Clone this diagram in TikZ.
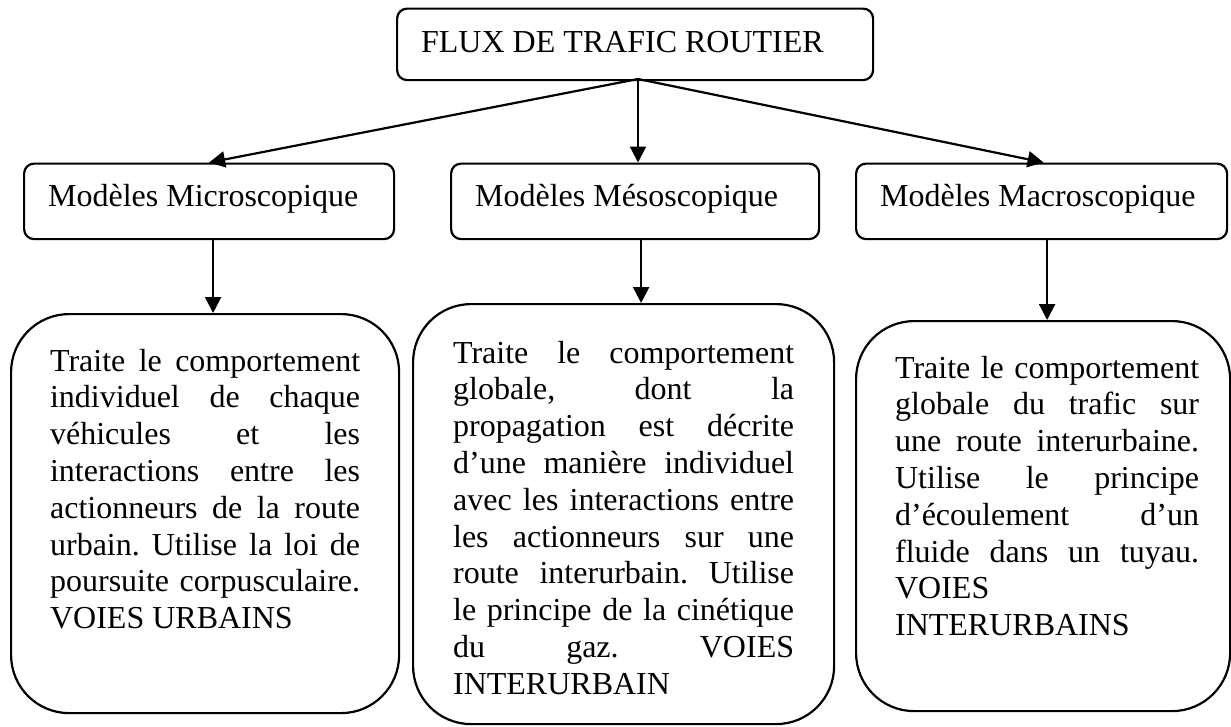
\documentclass[tikz,border=0pt]{standalone}
\usepackage{fontspec}
\setmainfont{Liberation Serif}
\usetikzlibrary{arrows.meta}

% one justified line of a text block
\newcommand\jl[1]{\makebox[\linewidth][s]{#1}\par}

\tikzset{
  txt/.style={font=\fontsize{32}{36.8}\selectfont\frenchspacing},
  box/.style={txt, draw, line width=2.2pt, inner sep=0pt, anchor=north west},
  headbox/.style={box, rounded corners=10pt},
  bigbox/.style={box, rounded corners=58pt},
  arr/.style={line width=2.2pt, -{Triangle[length=16pt,width=16pt]}},
}

\begin{document}
\begin{tikzpicture}[x=1pt, y=-1pt]
  \fill[white] (0,0) rectangle (1231,726);
  \useasboundingbox (0,0) rectangle (1231,726);

  % root
  \node[headbox, text height=44.2pt, text depth=27.3pt] (top) at (396,7.5)
    {\makebox[476pt][l]{\hspace*{24pt}FLUX DE TRAFIC ROUTIER}};
  \coordinate (hub) at (638,79);

  % model families
  \node[headbox, text height=42.5pt, text depth=33pt] (m1) at (23,162.5)
    {\makebox[370pt][l]{\hspace*{24pt}Modèles Microscopique}};
  \node[headbox, text height=42.5pt, text depth=33pt] (m2) at (450,162.5)
    {\makebox[368pt][l]{\hspace*{24pt}Modèles Mésoscopique}};
  \node[headbox, text height=42.5pt, text depth=33pt] (m3) at (855,162.5)
    {\makebox[371pt][l]{\hspace*{24pt}Modèles Macroscopique}};

  % descriptions
  \node[bigbox, text height=57pt, text depth=342pt] (b1) at (10,313)
    {\hspace*{39pt}\begin{minipage}[t]{310pt}
      \jl{Traite le comportement}
      \jl{individuel de chaque}
      \jl{véhicules et les}
      \jl{interactions entre les}
      \jl{actionneurs de la route}
      \jl{urbain. Utilise la loi de}
      \jl{poursuite corpusculaire.}
      VOIES URBAINS
    \end{minipage}\hspace*{39pt}};

  \node[bigbox, text height=59pt, text depth=361pt] (b2) at (412,303)
    {\hspace*{40pt}\begin{minipage}[t]{341pt}
      \jl{Traite le comportement}
      \jl{globale, dont la}
      \jl{propagation est décrite}
      \jl{d’une manière individuel}
      \jl{avec les interactions entre}
      \jl{les actionneurs sur une}
      \jl{route interurbain. Utilise}
      \jl{le principe de la cinétique}
      \jl{du gaz. VOIES}
      INTERURBAIN
    \end{minipage}\hspace*{40pt}};

  \node[bigbox, text height=57pt, text depth=333pt] (b3) at (855,320)
    {\hspace*{39pt}\begin{minipage}[t]{304pt}
      \jl{Traite le comportement}
      \jl{globale du trafic sur}
      \jl{une route interurbaine.}
      \jl{Utilise le principe}
      \jl{d’écoulement d’un}
      \jl{fluide dans un tuyau.}
      VOIES\par
      INTERURBAINS
    \end{minipage}\hspace*{31pt}};

  % connectors
  \draw[arr] (hub) -- (m1.north);
  \draw[arr] (hub) -- (hub |- m2.north);
  \draw[arr] (hub) -- ([xshift=2pt]m3.north);

  \draw[arr] ([xshift=4pt]m1.south) -- ([xshift=4pt]m1.south |- b1.north);
  \draw[arr] ([xshift=6pt]m2.south) -- ([xshift=6pt]m2.south |- b2.north);
  \draw[arr] ([xshift=5.5pt]m3.south) -- ([xshift=5.5pt]m3.south |- b3.north);
\end{tikzpicture}
\end{document}
